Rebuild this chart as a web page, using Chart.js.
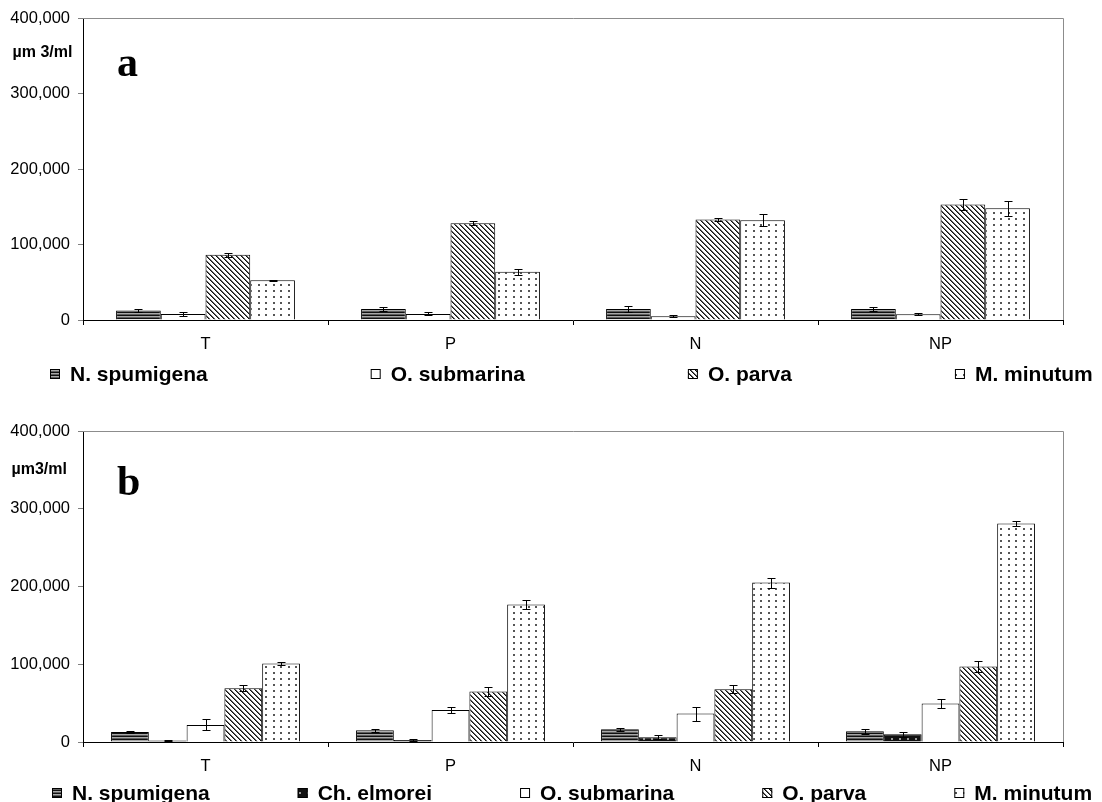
<!DOCTYPE html>
<html>
<head>
<meta charset="utf-8">
<script src="https://cdn.jsdelivr.net/npm/chart.js@4.4.1/dist/chart.umd.min.js"></script>
<style>
  html, body { margin: 0; padding: 0; background: #fff; }
  #wrap { position: relative; width: 1102px; height: 802px; overflow: hidden; background: #fff; }
  .panel { position: absolute; left: 0; width: 1102px; }
  #panelA { top: 0; height: 400px; }
  #panelB { top: 400px; height: 402px; }
</style>
</head>
<body>
<div id="wrap">
  <div class="panel" id="panelA"><canvas id="chartA" width="1102" height="400"></canvas></div>
  <div class="panel" id="panelB"><canvas id="chartB" width="1102" height="402"></canvas></div>
</div>
<script>
// ---- data ----
const categories = ['T', 'P', 'N', 'NP'];
const yTickValues = [0, 100000, 200000, 300000, 400000];

// panel a : biovolume (µm3/ml) and standard errors
const spumigenaA    = [12500, 14500, 14500, 14500];
const spumigenaAErr = [1500, 3000, 4500, 3000];
const submarinaA    = [8000, 8000, 5000, 7500];
const submarinaAErr = [3000, 2000, 1000, 1500];
const parvaA        = [86500, 128000, 133000, 153000];
const parvaAErr     = [2500, 2500, 2500, 7000];
const minutumA      = [52500, 64000, 132000, 148000];
const minutumAErr   = [1000, 4000, 8000, 10000];

// panel b
const spumigenaB    = [12900, 15000, 16500, 13800];
const spumigenaBErr = [1500, 2000, 2000, 3000];
const elmoreiB      = [1800, 2500, 6000, 10000];
const elmoreiBErr   = [500, 1000, 2500, 3000];
const submarinaB    = [22000, 41000, 36500, 49400];
const submarinaBErr = [7000, 3700, 9000, 5500];
const parvaB        = [69000, 65000, 68000, 97000];
const parvaBErr     = [4000, 6000, 5000, 7000];
const minutumB      = [101000, 177000, 205000, 281000];
const minutumBErr   = [2500, 5500, 6500, 3500];

// ---- fill patterns ----
function makePattern(w, h, painter) {
  const c = document.createElement('canvas');
  c.width = w; c.height = h;
  const g = c.getContext('2d');
  painter(g, w, h);
  return document.createElement('canvas').getContext('2d').createPattern(c, 'repeat');
}
const hStripes = makePattern(1, 3, (g) => {
  g.fillStyle = '#111'; g.fillRect(0, 0, 1, 1);
  g.fillStyle = '#a8a8a8'; g.fillRect(0, 1, 1, 1);
  g.fillStyle = '#5e5e5e'; g.fillRect(0, 2, 1, 1);
});
const darkDots = makePattern(8, 6, (g) => {
  g.fillStyle = '#111'; g.fillRect(0, 0, 8, 6);
  g.fillStyle = '#9a9a9a'; g.fillRect(3, 2, 2, 2);
});
const diagonal = makePattern(5, 5, (g, w, h) => {
  g.fillStyle = '#fff'; g.fillRect(0, 0, w, h);
  for (let y = 0; y < h; y++) {
    for (let x = 0; x < w; x++) {
      const d = ((x - y) % w + w) % w;
      if (d === 0) { g.fillStyle = '#111'; g.fillRect(x, y, 1, 1); }
      else if (d === 1) { g.fillStyle = '#666'; g.fillRect(x, y, 1, 1); }
    }
  }
});
const lightDots = makePattern(15, 6, (g) => {
  g.fillStyle = '#fff'; g.fillRect(0, 0, 15, 6);
  g.fillStyle = '#555';
  g.fillRect(3, 2, 2, 2);
  g.fillRect(10, 2, 2, 2);
});

const FONT = "'Liberation Sans', Arial, sans-serif";

// ---- plugins ----
const errorBars = {
  id: 'errorBars',
  afterDatasetsDraw(chart) {
    const ctx = chart.ctx;
    const ys = chart.scales.y;
    ctx.save();
    ctx.strokeStyle = '#000';
    ctx.lineWidth = 1;
    chart.data.datasets.forEach((ds, i) => {
      const meta = chart.getDatasetMeta(i);
      meta.data.forEach((bar, j) => {
        const v = ds.data[j], e = ds.errors[j];
        const x = Math.round(bar.x) + 0.5;
        const yTop = Math.round(ys.getPixelForValue(v + e)) + 0.5;
        const yBot = Math.round(ys.getPixelForValue(Math.max(0, v - e))) + 0.5;
        ctx.beginPath();
        ctx.moveTo(x, yTop); ctx.lineTo(x, yBot);
        ctx.moveTo(x - 4, yTop); ctx.lineTo(x + 4, yTop);
        ctx.moveTo(x - 4, yBot); ctx.lineTo(x + 4, yBot);
        ctx.stroke();
      });
    });
    ctx.restore();
  }
};

const frameLines = {
  id: 'frameLines',
  afterDraw(chart) {
    const a = chart.chartArea, ctx = chart.ctx;
    ctx.save();
    ctx.strokeStyle = '#8c8c8c';
    ctx.lineWidth = 1;
    ctx.beginPath();
    ctx.moveTo(Math.round(a.left), Math.round(a.top) + 0.5);
    ctx.lineTo(Math.round(a.right) + 0.5, Math.round(a.top) + 0.5);
    ctx.lineTo(Math.round(a.right) + 0.5, Math.round(a.bottom));
    ctx.stroke();
    ctx.restore();
  }
};

const panelText = {
  id: 'panelText',
  afterDraw(chart, args, opts) {
    const ctx = chart.ctx;
    ctx.save();
    ctx.fillStyle = '#000';
    ctx.textBaseline = 'middle';
    ctx.textAlign = 'left';
    ctx.font = 'bold 16px ' + FONT;
    ctx.fillText(opts.unit, opts.unitX, opts.unitY);
    ctx.textBaseline = 'alphabetic';
    ctx.font = "bold 42px 'Liberation Serif', 'Times New Roman', serif";
    ctx.fillText(opts.letter, opts.letterX, opts.letterY);
    ctx.restore();
  }
};

// one-row legend: swatch, label, then a fixed gap before the next entry
const panelLegend = {
  id: 'panelLegend',
  afterDraw(chart, args, opts) {
    const ctx = chart.ctx;
    ctx.save();
    ctx.font = 'bold 21px ' + FONT;
    ctx.textBaseline = 'middle';
    ctx.textAlign = 'left';
    let x = opts.x0;
    chart.data.datasets.forEach((ds) => {
      const y = opts.y;
      ctx.fillStyle = ds.backgroundColor;
      ctx.fillRect(x, y - 5, 10, 10);
      ctx.strokeStyle = '#000';
      ctx.lineWidth = 1;
      ctx.strokeRect(x + 0.5, y - 4.5, 9, 9);
      ctx.fillStyle = '#000';
      ctx.fillText(ds.label, x + 20, y + 1);
      x = x + 20 + ctx.measureText(ds.label).width + opts.gap;
    });
    ctx.restore();
  }
};

function series(label, data, errors, fill) {
  return {
    label, data, errors,
    backgroundColor: fill,
    borderColor: '#000',
    borderWidth: 1
  };
}

function makeOptions(catPct, pad, textOpts, legendOpts) {
  return {
    responsive: false,
    animation: false,
    events: [],
    layout: { padding: pad },
    datasets: { bar: { categoryPercentage: catPct, barPercentage: 1 } },
    plugins: {
      legend: { display: false },
      tooltip: { enabled: false },
      title: { display: false },
      panelText: textOpts,
      panelLegend: legendOpts
    },
    scales: {
      x: {
        type: 'category',
        offset: true,
        grid: { display: true, drawOnChartArea: false, drawTicks: true, tickLength: 5, color: '#000', offset: true },
        border: { display: true, color: '#000', width: 1 },
        ticks: { color: '#000', font: { family: FONT, size: 16.5 }, padding: 10, maxRotation: 0, autoSkip: false },
        afterFit(s) { s.height = 40; }
      },
      y: {
        min: 0, max: 400000,
        afterBuildTicks(s) { s.ticks = yTickValues.map(v => ({ value: v })); },
        ticks: {
          color: '#000',
          font: { family: FONT, size: 16.5 },
          padding: 8,
          callback: (v) => Number(v).toLocaleString('en-US')
        },
        grid: { drawOnChartArea: false, drawTicks: true, tickLength: 5, color: '#808080' },
        border: { display: true, color: '#000', width: 1 },
        afterFit(s) { s.width = 83; }
      }
    }
  };
}

new Chart(document.getElementById('chartA'), {
  type: 'bar',
  data: {
    labels: categories,
    datasets: [
      series('N. spumigena', spumigenaA, spumigenaAErr, hStripes),
      series('O. submarina', submarinaA, submarinaAErr, '#ffffff'),
      series('O. parva', parvaA, parvaAErr, diagonal),
      series('M. minutum', minutumA, minutumAErr, lightDots)
    ]
  },
  options: makeOptions(0.73, { top: 18, left: 0, right: 39, bottom: 40 },
    { unit: 'µm 3/ml', unitX: 12.5, unitY: 53, letter: 'a', letterX: 117, letterY: 76 },
    { y: 374, x0: 50, gap: 163 }),
  plugins: [errorBars, frameLines, panelText, panelLegend]
});

new Chart(document.getElementById('chartB'), {
  type: 'bar',
  data: {
    labels: categories,
    datasets: [
      series('N. spumigena', spumigenaB, spumigenaBErr, hStripes),
      series('Ch. elmorei', elmoreiB, elmoreiBErr, darkDots),
      series('O. submarina', submarinaB, submarinaBErr, '#ffffff'),
      series('O. parva', parvaB, parvaBErr, diagonal),
      series('M. minutum', minutumB, minutumBErr, lightDots)
    ]
  },
  options: makeOptions(0.771, { top: 31, left: 0, right: 39, bottom: 20 },
    { unit: 'µm3/ml', unitX: 11.5, unitY: 70, letter: 'b', letterX: 117, letterY: 95 },
    { y: 393, x0: 52, gap: 88 }),
  plugins: [errorBars, frameLines, panelText, panelLegend]
});
</script>
</body>
</html>
